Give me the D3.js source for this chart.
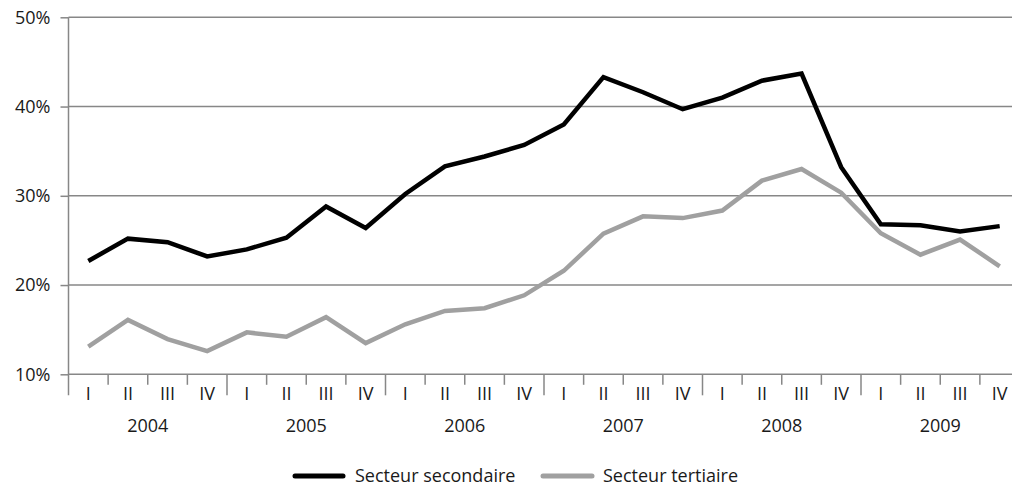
<!DOCTYPE html>
<html>
<head>
<meta charset="utf-8">
<script src="https://cdn.jsdelivr.net/npm/d3@7"></script>
<style>
  html, body { margin: 0; padding: 0; background: #fff; }
  svg { display: block; font-family: "Open Sans", sans-serif; }
</style>
</head>
<body>
<svg id="chart" width="1012" height="493"></svg>
<script>
const years = ["2004", "2005", "2006", "2007", "2008", "2009"];
const quarters = ["I", "II", "III", "IV"];
const secondaire = [22.7, 25.2, 24.8, 23.2, 24.0, 25.3, 28.8, 26.4,
                    30.2, 33.3, 34.4, 35.7, 38.0, 43.3, 41.6, 39.7,
                    41.0, 42.9, 43.7, 33.2, 26.8, 26.7, 26.0, 26.6];
const tertiaire = [13.1, 16.1, 13.95, 12.6, 14.7, 14.2, 16.4, 13.5,
                   15.6, 17.1, 17.4, 18.85, 21.6, 25.75, 27.7, 27.5,
                   28.35, 31.7, 33.0, 30.35, 25.8, 23.4, 25.1, 22.1];
const yTicks = [10, 20, 30, 40, 50];
const seriesNames = ["Secteur secondaire", "Secteur tertiaire"];
const seriesColors = ["#000000", "#a0a0a0"];

(function () {
const W = 1012, H = 493;
const pLeft = 68.5, pRight = 1019.5, pTop = 17.3, pBottom = 374.3;
const fs = 18, txt = "#1a1a1a";
const svg = d3.select("#chart");

const idx = d3.range(years.length * quarters.length);
const x = d3.scaleBand().domain(idx).range([pLeft, pRight]).padding(0);
const xYear = d3.scaleBand().domain(years).range([pLeft, pRight]).padding(0);
const y = d3.scaleLinear().domain([10, 50]).range([pBottom, pTop]);
const cx = i => x(i) + x.bandwidth() / 2;

const gridColor = "#878787";

// gridlines
svg.append("g").selectAll("line").data(yTicks).join("line")
  .attr("x1", pLeft).attr("x2", W)
  .attr("y1", d => y(d)).attr("y2", d => y(d))
  .attr("stroke", gridColor).attr("stroke-width", 1.5);

// y axis
const yAxis = svg.append("g").attr("transform", `translate(${pLeft},0)`)
  .call(d3.axisLeft(y).tickValues(yTicks).tickFormat(d => d + "%").tickSize(8).tickPadding(10));
yAxis.select(".domain").remove();
yAxis.selectAll(".tick line").attr("stroke", gridColor).attr("stroke-width", 1.5);
yAxis.selectAll(".tick text").attr("font-size", fs).attr("fill", txt)
  .attr("font-family", "'Open Sans', sans-serif");

// vertical axis line (extends down to year tick length)
svg.append("line").attr("x1", pLeft).attr("x2", pLeft)
  .attr("y1", pTop).attr("y2", pBottom + 21)
  .attr("stroke", gridColor).attr("stroke-width", 1.5);

// x ticks at quarter boundaries
const boundaries = idx.slice(1).concat([idx.length]);
svg.append("g").selectAll("line").data(boundaries).join("line")
  .attr("x1", d => d < idx.length ? x(d) : pRight)
  .attr("x2", d => d < idx.length ? x(d) : pRight)
  .attr("y1", pBottom)
  .attr("y2", d => pBottom + (d % 4 === 0 ? 21 : 10.5))
  .attr("stroke", gridColor).attr("stroke-width", 1.5);

// quarter labels
const xAxis = svg.append("g").attr("transform", `translate(0,${pBottom})`)
  .call(d3.axisBottom(x).tickFormat(i => quarters[i % 4]).tickSize(0).tickPadding(13));
xAxis.select(".domain").remove();
xAxis.selectAll(".tick text").attr("font-size", fs).attr("fill", txt)
  .attr("font-family", "'Open Sans', sans-serif");

// year labels
const yearAxis = svg.append("g").attr("transform", `translate(0,${pBottom + 45})`)
  .call(d3.axisBottom(xYear).tickSize(0).tickPadding(0));
yearAxis.select(".domain").remove();
yearAxis.selectAll(".tick text").attr("font-size", fs).attr("fill", txt)
  .attr("font-family", "'Open Sans', sans-serif");

// lines
const line = d3.line().x((d, i) => cx(i)).y(d => y(d));
[secondaire, tertiaire].forEach((s, k) => {
  svg.append("path").datum(s)
    .attr("d", line)
    .attr("fill", "none")
    .attr("stroke", seriesColors[k])
    .attr("stroke-width", 4.5)
    .attr("stroke-linejoin", "miter");
});

// legend
const legendItems = [
  { x1: 295, x2: 343, tx: 355 },
  { x1: 543, x2: 592, tx: 603 }
];
const lg = svg.append("g");
legendItems.forEach((it, k) => {
  lg.append("line").attr("x1", it.x1).attr("x2", it.x2)
    .attr("y1", 476).attr("y2", 476)
    .attr("stroke", seriesColors[k]).attr("stroke-width", 5).attr("stroke-linecap", "round");
  lg.append("text").attr("x", it.tx).attr("y", 476).attr("dy", "0.35em")
    .attr("font-size", fs).attr("fill", txt).text(seriesNames[k]);
});
})();
</script>
</body>
</html>
